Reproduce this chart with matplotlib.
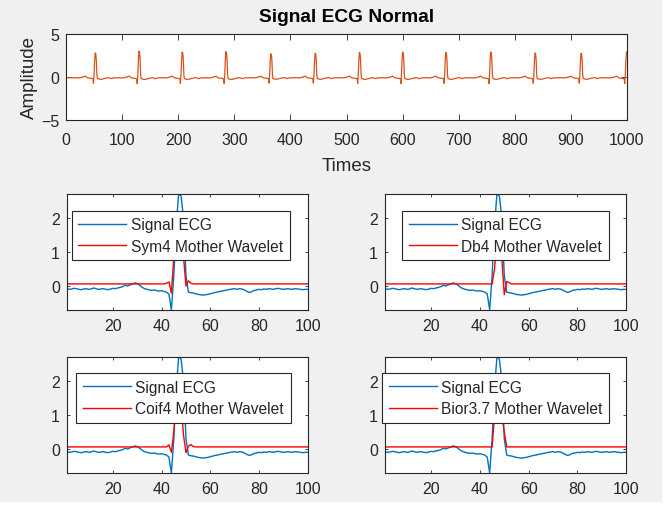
import numpy as np
import matplotlib
matplotlib.use("Agg")
import matplotlib.pyplot as plt
from matplotlib.patches import Rectangle

plt.rcParams['font.family'] = ['Liberation Sans', 'DejaVu Sans']

# ECG excerpt (100 samples) shown in the four lower panels
ecg = [-0.08, -0.10, -0.09, -0.07, -0.08, -0.10, -0.11, -0.09, -0.08, -0.10,
       -0.09, -0.06, -0.08, -0.10, -0.09, -0.08, -0.10, -0.11, -0.09, -0.07,
       -0.08, -0.06, -0.04, -0.02, 0.02, 0.00, 0.03, 0.06, 0.09, 0.07,
       0.02, -0.04, -0.08, -0.10, -0.12, -0.13, -0.12, -0.14, -0.15, -0.14,
       -0.16, -0.18, -0.24, -0.71, 0.30, 1.80, 2.73, 2.65, 2.00, 0.30,
       -0.18, -0.20, -0.21, -0.23, -0.25, -0.26, -0.27, -0.26, -0.25, -0.23,
       -0.21, -0.19, -0.18, -0.16, -0.15, -0.13, -0.12, -0.10, -0.09, -0.08,
       -0.10, -0.08, -0.09, -0.12, -0.16, -0.19, -0.17, -0.13, -0.12, -0.10,
       -0.11, -0.09, -0.10, -0.08, -0.09, -0.10, -0.08, -0.07, -0.09, -0.10,
       -0.09, -0.08, -0.10, -0.09, -0.08, -0.09, -0.10, -0.11, -0.10, -0.10]

# mother wavelets: flat level plus the samples around the QRS (start index is 1-based)
wav_level = 0.06
sym4_start, sym4_vals = 42, [0.08, 0.12, -0.21, 0.85, 1.60, 1.70, 1.50, 0.85, 0.00, 0.15, 0.08]
db4_start, db4_vals = 45, [0.06, 0.50, 1.40, 1.60, 0.80, -0.26, 0.13, 0.10]
coif4_start, coif4_vals = 42, [0.06, 0.12, -0.10, 0.50, 1.50, 1.70, 1.30, 0.40, -0.11, 0.08, 0.13, 0.07]
bior37_start, bior37_vals = 45, [0.06, 1.00, 1.70, 1.70, 1.00, 0.50, 0.06]

# full normal record (1000 samples): R-peak positions and heights
r_peaks = [52, 130, 207, 285, 365, 444, 523, 600, 677, 757, 836, 918, 999]
r_heights = [2.80, 3.00, 2.90, 2.95, 2.70, 2.75, 2.85, 2.90, 2.85, 2.90, 2.80, 2.75, 2.90]

names = ["Sym4", "Db4", "Coif4", "Bior3.7"]
wavelets = [(sym4_start, sym4_vals), (db4_start, db4_vals),
            (coif4_start, coif4_vals), (bior37_start, bior37_vals)]

ecg = np.array(ecg)
n = np.arange(1, 101)

# assemble long record from the beat template
r_idx = int(np.argmax(ecg))
full = np.empty(1000)
t = np.arange(1, 1001)
peaks = np.array(r_peaks)
for k, tk in enumerate(t):
    j = np.argmin(np.abs(peaks - tk))
    d = tk - peaks[j]
    idx = int(np.clip(r_idx + d, 0, 99))
    full[k] = ecg[idx] * r_heights[j] / ecg[r_idx]

fig = plt.figure(figsize=(6.64, 5.06), dpi=100)
fig.patch.set_facecolor('white')
fig.patches.append(Rectangle((0, 0.006), 0.997, 0.994, transform=fig.transFigure,
                             facecolor='#f0f0f0', edgecolor='none', zorder=-10))

axc = '#262626'


def style(ax, tl, pad):
    ax.set_facecolor('white')
    for s in ax.spines.values():
        s.set_color(axc)
        s.set_linewidth(0.8)
    ax.tick_params(direction='in', top=True, right=True, length=tl, width=0.6,
                   colors=axc, labelsize=11.5)
    ax.tick_params(axis='x', pad=pad)
    ax.tick_params(axis='y', pad=5)


ax = fig.add_axes([66 / 664, 1 - 121 / 506, 561 / 664, 86 / 506])
ax.plot(t, full, color='#D95319', lw=0.9)
ax.set_xlim(0, 1000)
ax.set_ylim(-5, 5)
ax.set_xticks(range(0, 1001, 100))
ax.set_yticks([-5, 0, 5])
style(ax, 4, 9)
ax.set_title("Signal ECG Normal", fontsize=13.8, fontweight='bold', color='black', pad=9)
ax.set_xlabel("Times", fontsize=13.5, color=axc, labelpad=7)
ax.set_ylabel("Amplitude", fontsize=13.5, color=axc, labelpad=2)

pos = [[66.7, 311], [385, 311], [66.7, 474], [385, 474]]
leg_xy = [(71.7, 211.7), (402, 211.7), (76, 374), (382, 374)]

for i in range(4):
    px, py = pos[i]
    a = fig.add_axes([px / 664, 1 - py / 506, 241 / 664, 116.5 / 506])
    start, vals = wavelets[i]
    w = np.full(100, wav_level)
    w[start - 1:start - 1 + len(vals)] = vals
    a.plot(n, ecg, color='#0072BD', lw=1.0, label='Signal ECG')
    a.plot(n, w, color='#FF0000', lw=1.0, label=names[i] + ' Mother Wavelet')
    a.set_xlim(1, 100)
    a.set_ylim(ecg.min(), ecg.max())
    a.set_xticks([20, 40, 60, 80, 100])
    a.set_yticks([0, 1, 2])
    style(a, 2.5, 6)
    lx, ly = leg_xy[i]
    leg = a.legend(loc='upper left', bbox_to_anchor=(lx / 664, 1 - ly / 506),
                   bbox_transform=fig.transFigure, borderaxespad=0,
                   fontsize=11.2, fancybox=False, framealpha=1, edgecolor='#262626',
                   handlelength=3.1, handletextpad=0.3, labelspacing=0.42,
                   borderpad=0.42)
    leg.get_frame().set_linewidth(0.8)
    for txt in leg.get_texts():
        txt.set_color(axc)

fig.savefig("out.png", dpi=100, facecolor=fig.get_facecolor())
